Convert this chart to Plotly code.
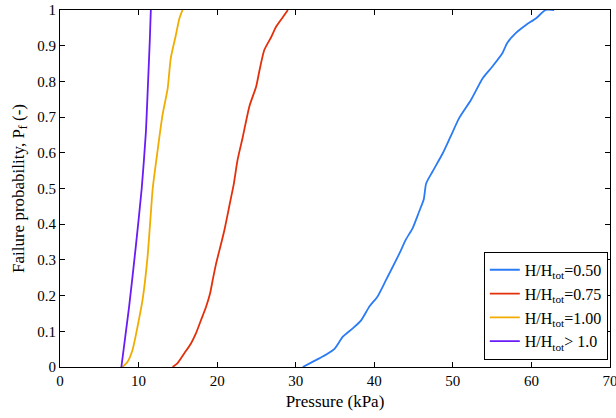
import plotly.graph_objects as go

# H/Htot = 0.50
p050 = [30.9, 32.2, 33.5, 34.9, 36.0, 37.3, 38.3, 39.4, 40.4, 41.5, 42.1, 43.2, 44.0, 44.9, 45.7, 46.3,
        46.6, 47.4, 48.7, 49.7, 50.8, 52.3, 53.8, 55.0, 56.3, 56.9, 58.0, 59.3, 60.6, 61.8, 62.9]
f050 = [0.0, 0.015, 0.03, 0.05, 0.085, 0.109, 0.13, 0.17, 0.197, 0.244, 0.27, 0.318, 0.356, 0.39, 0.435, 0.47,
        0.514, 0.547, 0.598, 0.645, 0.697, 0.748, 0.809, 0.841, 0.879, 0.907, 0.935, 0.958, 0.977, 1.0, 1.0]
# H/Htot = 0.75
p075 = [14.33, 14.97, 15.81, 16.67, 17.3, 17.94, 18.58, 19.09, 19.43, 19.86, 20.5, 20.92, 21.35, 21.78, 22.1,
        22.6, 23.27, 24.1, 24.97, 25.4, 26.0, 26.9, 27.5, 28.4, 29.0]
f075 = [0.0, 0.011, 0.038, 0.066, 0.094, 0.131, 0.168, 0.205, 0.243, 0.289, 0.345, 0.383, 0.429, 0.476, 0.51,
        0.58, 0.645, 0.73, 0.786, 0.832, 0.888, 0.925, 0.953, 0.981, 1.0]
# H/Htot = 1.00
p100 = [7.94, 8.58, 9.22, 9.86, 10.5, 11.14, 11.56, 11.8, 12.4, 13.05, 13.7, 14.1, 14.75, 15.2, 15.6]
f100 = [0.0, 0.014, 0.047, 0.112, 0.187, 0.308, 0.43, 0.5, 0.603, 0.706, 0.78, 0.865, 0.93, 0.977, 1.0]
# H/Htot > 1.0
p_gt = [7.81, 8.79, 9.64, 10.4, 10.92, 11.2, 11.43, 11.56]
f_gt = [0.0, 0.168, 0.336, 0.5, 0.654, 0.794, 0.916, 1.0]

names = ["H/H<sub>tot</sub>=0.50", "H/H<sub>tot</sub>=0.75", "H/H<sub>tot</sub>=1.00", "H/H<sub>tot</sub>> 1.0"]
colors = ["#2b7bf5", "#e3300a", "#f0ad00", "#6a1cf6"]
xs = [p050, p075, p100, p_gt]
ys = [f050, f075, f100, f_gt]

x_ticks = [0, 10, 20, 30, 40, 50, 60, 70]
y_ticks = [0, 0.1, 0.2, 0.3, 0.4, 0.5, 0.6, 0.7, 0.8, 0.9, 1]

fig = go.Figure()
for x, y, n, c in zip(xs, ys, names, colors):
    fig.add_trace(go.Scatter(x=x, y=y, mode="lines", name=n, line=dict(color=c, width=1.8, shape="spline",
                                                                        smoothing=0.6)))

SERIF = "Liberation Serif"
axis_common = dict(showline=True, linecolor="black", linewidth=1, mirror="ticks", ticks="inside",
                   ticklen=5, tickcolor="black", showgrid=False, zeroline=False, automargin=False,
                   ticklabeloverflow="allow",
                   tickfont=dict(family=SERIF, size=15, color="black"))
fig.update_layout(
    width=616, height=418,
    margin=dict(l=60, r=6, t=10, b=51),
    paper_bgcolor="white", plot_bgcolor="white",
    font=dict(family=SERIF, size=15, color="black"),
    xaxis=dict(range=[0, 70], tickvals=x_ticks,
               title=dict(text="Pressure (kPa)", standoff=7, font=dict(family=SERIF, size=17)),
               **axis_common),
    yaxis=dict(range=[0, 1], tickvals=y_ticks,
               title=dict(text="Failure probability, P<sub>f</sub> (-)", standoff=8,
                          font=dict(family=SERIF, size=17)),
               **axis_common),
    legend=dict(x=0.996, y=0.02, xanchor="right", yanchor="bottom", bordercolor="black", borderwidth=1,
                bgcolor="white", font=dict(family=SERIF, size=16), tracegroupgap=0, itemwidth=30),
    showlegend=True,
)
fig.write_html("out.html", config={"displayModeBar": False},
               post_script="document.body.style.margin='0';document.body.style.overflow='hidden';")
